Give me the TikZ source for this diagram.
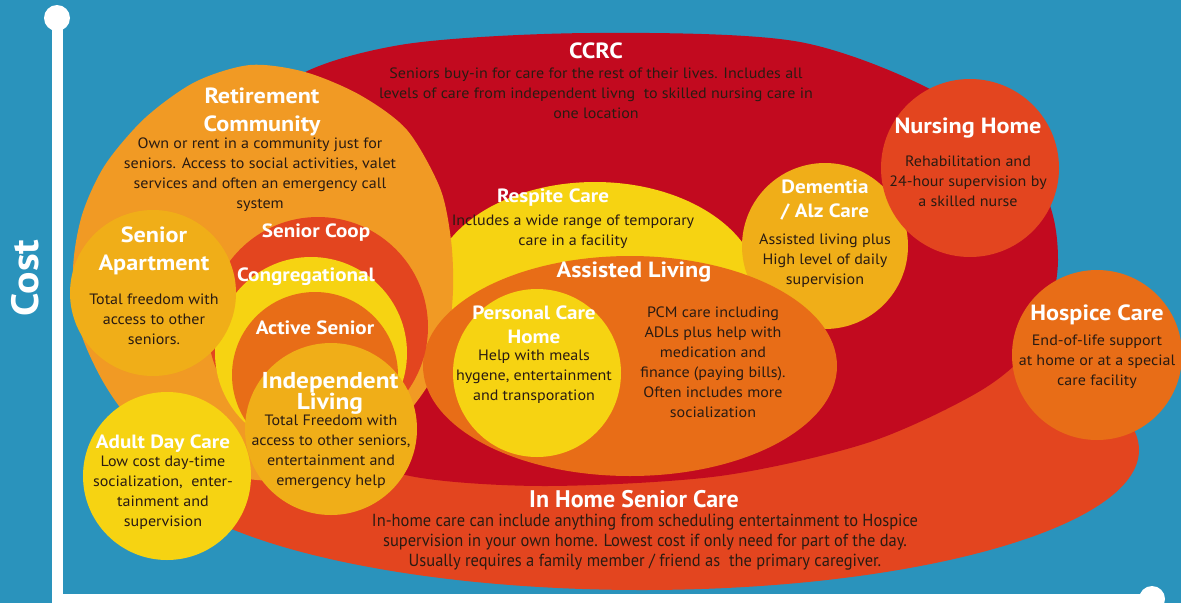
\documentclass[tikz,border=0pt]{standalone}
\usepackage{fontspec}
\setmainfont{PT Sans}
\newfontfamily\condf[FakeStretch=0.94]{PT Sans}
\newfontfamily\bodyfam[FakeStretch=1.07]{PT Sans}
\newfontfamily\titfam[FakeStretch=1.1]{PT Sans}
\definecolor{bgblue}{HTML}{2A93BC}
\definecolor{ccrcred}{HTML}{C20A1F}
\definecolor{redor}{HTML}{E3451F}
\definecolor{retor}{HTML}{F19A24}
\definecolor{dkor}{HTML}{E86D17}
\definecolor{amber}{HTML}{F0AE18}
\definecolor{yell}{HTML}{F6D312}
\definecolor{txt}{HTML}{2A1B12}
\newcommand\bodyf{\bodyfam\fontsize{15}{20}\selectfont}
\newcommand\titf{\titfam\fontsize{22}{28}\selectfont\bfseries}
\newcommand\smtitf{\titfam\fontsize{19.2}{24}\selectfont\bfseries}
\begin{document}
\begin{tikzpicture}[x=1pt,y=-1pt,
  body/.style={text=txt, align=center, font=\bodyf, inner sep=0pt},
  ttl/.style={text=white, align=center, font=\titf, inner sep=0pt},
  sttl/.style={ttl, font=\smtitf}]
\useasboundingbox (0,0) rectangle (1181,603);
\fill[bgblue] (0,0) rectangle (1181,603);
% axes
\fill[white] (52,18) rectangle (63,603);
\fill[white] (52,594) rectangle (1152,603);
\fill[white] (57,18) circle[radius=13pt];
\fill[white] (1152,599) circle[radius=13pt];
\node[text=white, font=\titfam\fontsize{38}{38}\selectfont\bfseries, rotate=90, inner sep=0pt] (cost) at (25,278) {Cost};
% big shapes
\fill[redor] (642,450) ellipse[x radius=497pt, y radius=140pt];
\fill[ccrcred] plot[smooth cycle] coordinates {(285,85) (400,45) (590,33) (800,42) (950,100) (1040,185) (1058,260) (1040,335) (985,388) (870,442) (720,476) (545,486) (410,476) (320,440) (265,330) (255,180)};
\fill[yell] (595,292) ellipse[x radius=165pt, y radius=110pt];
\fill[retor] plot[smooth cycle] coordinates {(250,65) (305,72) (360,95) (407,130) (440,188) (451,240) (453,290) (447,340) (425,390) (380,440) (300,480) (200,470) (140,430) (105,385) (80,330) (73,270) (82,215) (105,165) (145,118) (195,82)};
\fill[amber] (825,246) circle[radius=83pt];
\fill[redor] (970,168) circle[radius=89pt];
\fill[dkor] (1097,355) circle[radius=85pt];
\fill[dkor] (630,366) ellipse[x radius=207pt, y radius=110pt];
\fill[yell] (537,373) circle[radius=84pt];
\fill[redor] (318,327) circle[radius=110pt];
\fill[yell] (311,353) circle[radius=96pt];
\fill[dkor] (315,375) circle[radius=83pt];
\fill[amber] (153,293) circle[radius=83pt];
\fill[amber] (331,429) circle[radius=86pt];
\fill[yell] (167,476) circle[radius=84pt];
% texts
\node[ttl] (ccrcT) at (596,51) {CCRC};
\node[body] (ccrcB) at (596,93) {Seniors buy-in for care for the rest of their lives. Includes all\\levels of care from independent livng\ \ to skilled nursing care in\\one location};
\node[ttl] (retT) at (262,112) {Retirement\\Community};
\node[body] (retB) at (260,175) {Own or rent in a community just for\\seniors. Access to social activities, valet\\services and often an emergency call\\system};
\node[ttl] (aptT) at (154,251) {Senior\\Apartment};
\node[body] (aptB) at (154,319) {Total freedom with\\access to other\\seniors.};
\node[sttl] (coopT) at (316,233) {Senior Coop};
\node[sttl] (congT) at (306,277) {Congregational};
\node[sttl] (actT) at (315,328) {Active Senior};
\node[ttl, font=\titfam\fontsize{23}{21}\selectfont\bfseries] (indT) at (330,393) {Independent\\Living};
\node[body] (indB) at (331,452) {Total Freedom with\\access to other seniors,\\entertainment and\\emergency help};
\node[sttl] (adcT) at (163,444) {Adult Day Care};
\node[body] (adcB) at (163,493) {Low cost day-time\\socialization,\ \ enter-\\tainment and\\supervision};
\node[sttl] (resT) at (553,198) {Respite Care};
\node[body] (resB) at (573,232) {Includes a wide range of temporary\\care in a facility};
\node[ttl] (alT) at (634,272) {Assisted Living};
\node[sttl] (pchT) at (534,325) {Personal Care\\Home};
\node[body] (pchB) at (534,377) {Help with meals\\hygene, entertainment\\and transporation};
\node[body] (alB) at (713,362) {PCM care including\\ADLs plus help with\\medication and\\finance (paying bills).\\Often includes more\\socialization};
\node[sttl] (demT) at (825,200) {Dementia\\/ Alz Care};
\node[body] (demB) at (825,261) {Assisted living plus\\High level of daily\\supervision};
\node[ttl] (nurT) at (968,128) {Nursing Home};
\node[body] (nurB) at (968,181) {Rehabilitation and\\24-hour supervision by\\a skilled nurse};
\node[ttl] (hosT) at (1097,315) {Hospice Care};
\node[body] (hosB) at (1097,362) {End-of-life support\\at home or at a special\\care facility};
\node[ttl, font=\fontsize{24}{28}\selectfont\bfseries] (ihT) at (634,499) {In Home Senior Care};
\node[body, font=\condf\fontsize{17.5}{20}\selectfont] (ihB) at (645,542) {In-home care can include anything from scheduling entertainment to Hospice\\supervision in your own home. Lowest cost if only need for part of the day.\\Usually requires a family member / friend as\ \ the primary caregiver.};
\end{tikzpicture}
\end{document}
